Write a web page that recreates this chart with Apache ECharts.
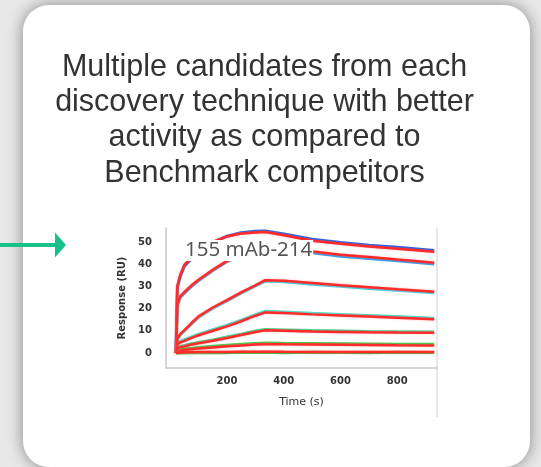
<!DOCTYPE html>
<html><head><meta charset="utf-8">
<script src="https://cdn.jsdelivr.net/npm/echarts@6/dist/echarts.min.js"></script>
<style>
html,body{margin:0;padding:0;width:541px;height:467px;overflow:hidden;background:#e8e8e8;}
#card{position:absolute;left:23px;top:5px;width:507px;height:462px;background:#fff;border-radius:26px;box-shadow:0 0 16px rgba(0,0,0,0.42);}
#chart{position:absolute;left:0;top:0;width:541px;height:467px;}
</style></head>
<body>
<div id="card"></div>
<div id="chart"></div>
<script>
const titleLines = ["Multiple candidates from each", "discovery technique with better", "activity as compared to", "Benchmark competitors"];
const panelLabel = "155 mAb-214";
const xName = "Time (s)";
const yName = "Response (RU)";
const xTicks = [200, 400, 600, 800];
const yTicks = [0, 10, 20, 30, 40, 50];

const time = [20, 25, 35, 50, 75, 100, 150, 200, 250, 300, 335, 400, 500, 600, 700, 800, 930];

// fitted curves (red)
const fit1 = [0, 30, 35, 39.8, 43, 46, 50, 52.5, 53.8, 54.3, 54.5, 53, 50.6, 49.2, 48, 47, 45.6];
const fit2 = [0, 22, 25.5, 27.5, 30.5, 33, 37.5, 41.5, 44.5, 47, 48.5, 47.8, 45.7, 44.3, 43.2, 42.1, 40.7];
const fit3 = [0, 6.5, 8.5, 10.3, 13.5, 16.5, 20.5, 23.8, 27.3, 30.5, 32.8, 32.5, 31.5, 30.5, 29.6, 28.7, 27.6];
const fit4 = [0, 4, 4.8, 5.5, 6.8, 8, 10, 12, 14.3, 16.8, 18.3, 18, 17.4, 16.9, 16.4, 15.9, 15.2];
const fit5 = [0, 2.2, 2.6, 3, 3.8, 4.4, 5.5, 6.8, 8.1, 9.5, 10.2, 10, 9.7, 9.5, 9.3, 9.2, 9.1];
const fit6 = [0, 0.9, 1.1, 1.4, 1.7, 2, 2.5, 3, 3.4, 3.8, 4, 3.9, 3.8, 3.7, 3.6, 3.5, 3.4];
const fit7 = [0, 0.2, 0.25, 0.3, 0.35, 0.4, 0.45, 0.5, 0.55, 0.6, 0.6, 0.55, 0.5, 0.5, 0.5, 0.5, 0.5];

// measured responses
const obs1 = [0, 29.5, 34.4, 39.2, 42.5, 45.6, 49.7, 52.6, 54.2, 54.8, 55, 53.6, 51.2, 49.8, 48.5, 47.6, 46.2];
const obs2 = [0, 21.4, 25, 27, 30, 32.6, 37.2, 41.2, 44.2, 46.7, 48.1, 47.2, 45.1, 43.6, 42.6, 41.5, 40.1];
const obs3 = [0, 6.2, 8.1, 9.9, 13.1, 16.1, 20.2, 23.5, 27, 30.2, 32.4, 32.1, 31, 30.1, 29.1, 28.3, 27.1];
const obs4 = [0, 4.4, 5.2, 6, 7.3, 8.5, 10.5, 12.5, 14.8, 17.3, 18.8, 18.5, 17.9, 17.4, 16.9, 16.4, 15.6];
const obs5 = [0, 2.6, 3, 3.4, 4.2, 4.8, 5.9, 7.2, 8.5, 9.9, 10.6, 10.4, 10.1, 9.9, 9.7, 9.6, 9.5];
const obs6 = [0, 1.4, 1.6, 1.9, 2.2, 2.5, 3, 3.5, 3.9, 4.3, 4.5, 4.4, 4.3, 4.2, 4.1, 4, 3.9];
const obs7 = [0, 0, 0.1, 0, 0.2, 0.1, 0.2, 0.1, 0.3, 0.2, 0.3, 0.1, 0.3, 0.2, 0.1, 0.3, 0.2];

const observed = [obs1, obs2, obs3, obs4, obs5, obs6, obs7];
const fits = [fit1, fit2, fit3, fit4, fit5, fit6, fit7];
const obsColors = ['#1f5fe6', '#2a9ff0', '#33d6ea', '#3ee6d0', '#2fd88e', '#3ccc44', '#35c238'];

const pairs = arr => time.map((t, i) => [t, arr[i]]);
const series = [];
observed.forEach((o, i) => series.push({
  type: 'line', data: pairs(o), showSymbol: false, silent: true, z: 2,
  lineStyle: { color: obsColors[i], width: 3 }
}));
fits.forEach((f, i) => series.push({
  type: 'line', data: pairs(f), showSymbol: false, silent: true, z: 3,
  lineStyle: { color: '#ff2a2a', width: 2.5, shadowColor: 'rgba(255,120,120,0.6)', shadowBlur: 2 }
}));

const chart = echarts.init(document.getElementById('chart'), null, { renderer: 'canvas' });
chart.setOption({
  backgroundColor: 'transparent',
  animation: false,
  grid: { left: 166, top: 228, width: 271, height: 140, containLabel: false },
  xAxis: {
    type: 'value', min: -15, max: 940,
    name: xName, nameLocation: 'middle', nameGap: 29,
    nameTextStyle: { fontSize: 11, color: '#333', fontFamily: 'DejaVu Sans' },
    axisLine: { onZero: false, lineStyle: { color: '#c8c8c8', width: 1.5 } },
    axisTick: { show: false },
    splitLine: { show: false },
    axisLabel: { customValues: xTicks, fontSize: 10, color: '#333', fontWeight: 'bold', margin: 8, fontFamily: 'DejaVu Sans' }
  },
  yAxis: {
    type: 'value', min: -6.75, max: 56.3,
    name: yName, nameLocation: 'middle', nameGap: 38, nameRotate: 90,
    nameTextStyle: { fontSize: 10, color: '#333', fontWeight: 'bold', fontFamily: 'DejaVu Sans' },
    axisLine: { show: true, onZero: false, lineStyle: { color: '#c8c8c8', width: 1.5 } },
    axisTick: { show: false },
    splitLine: { show: false },
    axisLabel: { customValues: yTicks, fontSize: 10, color: '#333', fontWeight: 'bold', margin: 14, fontFamily: 'DejaVu Sans' }
  },
  series: series,
  graphic: [
    { type: 'text', z: 10, style: { text: titleLines.join('\n'), x: 264.5, y: 49.5, align: 'center', verticalAlign: 'top',
      font: '30.5px "Liberation Sans", Arial, sans-serif', lineHeight: 35.4, fill: '#333' } },
    { type: 'text', z: 10, style: { text: panelLabel, x: 184, y: 250.5, align: 'left', verticalAlign: 'middle',
      font: '20.5px "Noto Sans", sans-serif', fill: '#555', backgroundColor: '#fff', padding: [0, 1, 0, 1] } },
    { type: 'line', z: 5, shape: { x1: 437, y1: 228, x2: 437, y2: 417 }, style: { stroke: '#cfcfcf', lineWidth: 1 } },
    { type: 'line', z: 20, shape: { x1: 0, y1: 245, x2: 57, y2: 245 }, style: { stroke: '#18c08a', lineWidth: 4 } },
    { type: 'polygon', z: 20, shape: { points: [[55, 232.5], [66, 245], [55, 257.5]] }, style: { fill: '#18c08a' } }
  ]
});
</script>
</body></html>
